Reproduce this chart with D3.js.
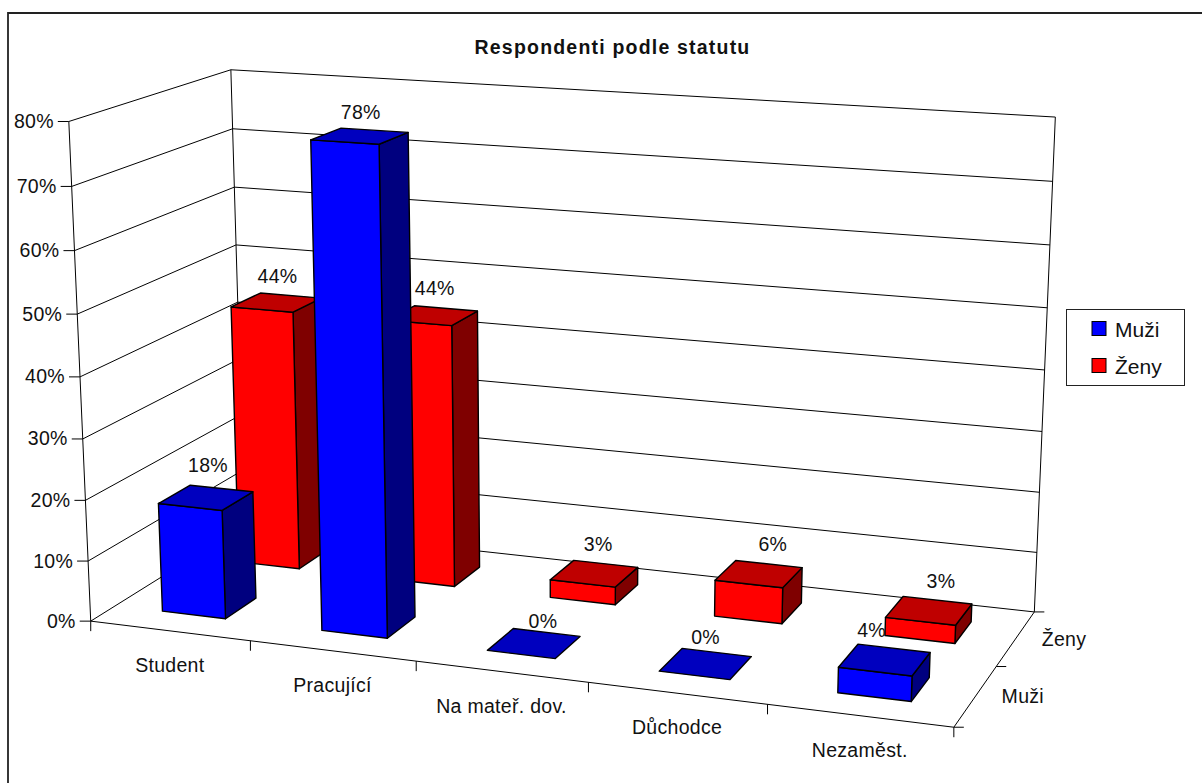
<!DOCTYPE html>
<html lang="cs">
<head>
<meta charset="utf-8">
<title>Respondenti podle statutu</title>
<script src="https://cdnjs.cloudflare.com/ajax/libs/d3/7.8.5/d3.min.js"></script>
<style>
  html, body { margin: 0; padding: 0; background: #fff; }
  svg { display: block; }
  text { font-family: "Liberation Sans", Arial, sans-serif; fill: #111; }
  .lbl { font-size: 19.5px; letter-spacing: 0.3px; }
</style>
</head>
<body>
<svg id="chart" width="1202" height="783"></svg>
<script>
const title = "Respondenti podle statutu";
const categories = ["Student", "Pracující", "Na mateř. dov.", "Důchodce", "Nezaměst."];
const seriesNames = ["Muži", "Ženy"];
const muzi = [18, 78, 0, 0, 4];
const zeny = [44, 44, 3, 6, 3];
const valueMax = 80;

const faceColors = {
  "Muži": { front: "#0000ff", top: "#0000bf", side: "#00007f" },
  "Ženy": { front: "#ff0000", top: "#bf0000", side: "#7f0000" }
};

// Perspective of the plot box: [across, depth, height] in unit space -> page pixels.
const cameraAnchors = [
  [0, 0, 0, 90.7, 621], [0, 0, 0.125, 87.3, 559.3], [0, 0, 0.25, 85.7, 500],
  [0, 0, 0.625, 77.3, 314], [0, 0, 0.75, 74, 251], [0, 0, 0.875, 71.7, 186.7], [0, 0, 1, 69.3, 122],
  [0, 1, 0, 245, 527], [0, 1, 0.625, 236, 244.7], [0, 1, 0.75, 234, 186.7], [0, 1, 0.875, 232.7, 129], [0, 1, 1, 230.7, 69.3],
  [1, 1, 0, 1033.3, 611], [1, 1, 0.5, 1045, 370], [1, 1, 0.625, 1047.5, 307.3],
  [1, 1, 0.75, 1050, 244.3], [1, 1, 0.875, 1052.5, 181.7], [1, 1, 1, 1055.3, 117.7],
  [1, 0, 0, 954.3, 727], [1, 0.5, 0, 996.7, 666.7],
  [0.2, 0, 0, 250.7, 640], [0.4, 0, 0, 416.7, 662], [0.6, 0, 0, 588, 683], [0.8, 0, 0, 767, 705]
];

// Least-squares fit of an 11-parameter projective camera.
function fitCamera(anchors) {
  const rows = [], rhs = [];
  anchors.forEach(([u, v, h, x, y]) => {
    rows.push([u, v, h, 1, 0, 0, 0, 0, -x * u, -x * v, -x * h]); rhs.push(x);
    rows.push([0, 0, 0, 0, u, v, h, 1, -y * u, -y * v, -y * h]); rhs.push(y);
  });
  const n = 11;
  const m = d3.range(n).map(i => d3.range(n + 1).map(j =>
    d3.sum(rows, (r, k) => r[i] * (j < n ? r[j] : rhs[k]))));
  for (let c = 0; c < n; c++) {
    let p = c;
    for (let r = c + 1; r < n; r++) if (Math.abs(m[r][c]) > Math.abs(m[p][c])) p = r;
    [m[c], m[p]] = [m[p], m[c]];
    for (let r = 0; r < n; r++) {
      if (r === c) continue;
      const f = m[r][c] / m[c][c];
      for (let j = c; j <= n; j++) m[r][j] -= f * m[c][j];
    }
  }
  return m.map((row, i) => row[n] / row[i]);
}
const cam = fitCamera(cameraAnchors);
function project(u, v, h) {
  const w = cam[8] * u + cam[9] * v + cam[10] * h + 1;
  return [(cam[0] * u + cam[1] * v + cam[2] * h + cam[3]) / w,
          (cam[4] * u + cam[5] * v + cam[6] * h + cam[7]) / w];
}

const xBand = d3.scaleBand().domain(categories).range([0, 1]).paddingInner(0.6).paddingOuter(0.3);
const zBand = d3.scaleBand().domain(seriesNames).range([0, 1]).paddingInner(0.6).paddingOuter(0.3);
const hScale = d3.scaleLinear().domain([0, valueMax]).range([0, 1]);
const xStep = xBand.step(), zStep = zBand.step();

const svg = d3.select("#chart");
const line = d3.line();
const poly = pts => line(pts) + "Z";

// Chart frame: only the top and left edges fall on the page
svg.append("path").attr("d", line([[8, 783], [8, 13], [1202, 13]]))
  .attr("fill", "none").attr("stroke", "#222").attr("stroke-width", 1.8);

svg.append("text").attr("x", 612.5).attr("y", 53.5).attr("text-anchor", "middle")
  .attr("font-size", 19.5).attr("font-weight", "bold").attr("letter-spacing", 1.2).text(title);

// Walls and gridlines
const grid = svg.append("g").attr("fill", "none").attr("stroke", "#000").attr("stroke-width", 1);
const seg = (g, a, b) => g.append("path").attr("d", line([a, b]));
hScale.ticks(8).forEach(t => {
  const h = hScale(t);
  seg(grid, project(0, 0, h), project(0, 1, h));
  seg(grid, project(0, 1, h), project(1, 1, h));
  const p = project(0, 0, h);
  seg(grid, [p[0] - 11, p[1]], p);
  svg.append("text").attr("class", "lbl").attr("x", p[0] - 15).attr("y", p[1] + 6.5).attr("text-anchor", "end")
    .text(t + "%");
});
[[0, 0], [0, 1], [1, 1]].forEach(([u, v]) => seg(grid, project(u, v, 0), project(u, v, 1)));
seg(grid, project(0, 0, 0), project(1, 0, 0));
seg(grid, project(1, 0, 0), project(1, 1, 0));

// Axis ticks and labels along the floor
d3.range(categories.length + 1).forEach(i => {
  const p = project(i * xStep, 0, 0);
  seg(grid, p, [p[0], p[1] + 10]);
});
categories.forEach((c, i) => {
  const p = project((i + 0.5) * xStep, 0, 0);
  svg.append("text").attr("class", "lbl").attr("x", p[0]).attr("y", p[1] + 41).attr("text-anchor", "middle").text(c);
});
d3.range(seriesNames.length + 1).forEach(i => {
  const p = project(1, i * zStep, 0);
  seg(grid, p, [p[0] + 10, p[1]]);
});
seriesNames.forEach((s, i) => {
  const p = project(1, (i + 0.5) * zStep, 0);
  svg.append("text").attr("class", "lbl").attr("x", p[0] + 26).attr("y", p[1] + 7).text(s);
});

// Extruded bars, back row first and left to right within a row
const seriesValues = { "Muži": muzi, "Ženy": zeny };
const bars = svg.append("g").attr("stroke", "#000").attr("stroke-width", 1.4).attr("stroke-linejoin", "round");
[...seriesNames].reverse().forEach(s => {
  categories.forEach((c, i) => {
    const v = seriesValues[s][i];
    const u0 = xBand(c), u1 = u0 + xBand.bandwidth();
    const z0 = zBand(s), z1 = z0 + zBand.bandwidth();
    const h = hScale(v), col = faceColors[s];
    if (v > 0) {
      bars.append("path").attr("fill", col.side)
        .attr("d", poly([project(u1, z0, 0), project(u1, z1, 0), project(u1, z1, h), project(u1, z0, h)]));
      bars.append("path").attr("fill", col.front)
        .attr("d", poly([project(u0, z0, 0), project(u1, z0, 0), project(u1, z0, h), project(u0, z0, h)]));
    }
    bars.append("path").attr("fill", col.top)
      .attr("d", poly([project(u0, z0, h), project(u1, z0, h), project(u1, z1, h), project(u0, z1, h)]));
  });
});

// Value labels sit above each bar; small offsets keep them clear of neighbouring faces
const labelNudge = {
  "Muži": [[2, -32], [1, -24], [9, -22], [0, -26], [-13, -29]],
  "Ženy": [[1, -26], [2, -27], [4, -29], [14, -29], [12, -29]]
};
seriesNames.forEach(s => {
  categories.forEach((c, i) => {
    const v = seriesValues[s][i];
    const p = project(xBand(c) + xBand.bandwidth() / 2, zBand(s) + zBand.bandwidth() / 2, hScale(v));
    const [dx, dy] = labelNudge[s][i];
    svg.append("text").attr("class", "lbl").attr("x", p[0] + dx).attr("y", p[1] + dy + 6.5)
      .attr("text-anchor", "middle").text(v + "%");
  });
});

// Legend
const legend = svg.append("g");
legend.append("rect").attr("x", 1066.5).attr("y", 309.5).attr("width", 118).attr("height", 76)
  .attr("fill", "#fff").attr("stroke", "#222");
seriesNames.forEach((s, i) => {
  const y = 321.5 + i * 37;
  legend.append("rect").attr("x", 1092).attr("y", y).attr("width", 14).attr("height", 14)
    .attr("fill", faceColors[s].front).attr("stroke", "#000");
  legend.append("text").attr("x", 1115).attr("y", y + 15).attr("font-size", 21).text(s);
});
</script>
</body>
</html>
